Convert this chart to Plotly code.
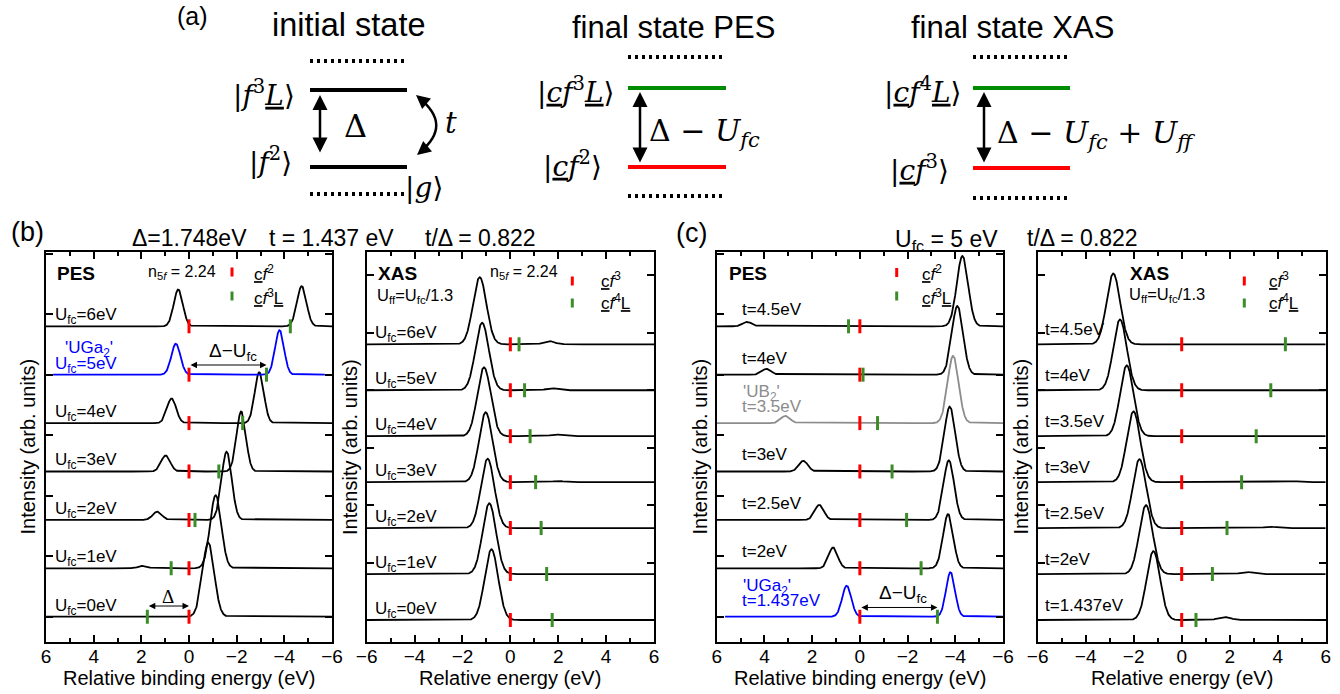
import numpy as np
import plotly.graph_objects as go

W, H = 1340, 694
SANS = "Liberation Sans, Arial, Helvetica, sans-serif"
SERIF = "DejaVu Serif, Liberation Serif, serif"
RED = "#ff0000"
GREEN = "#3c8c28"
GREEN_S = "#008c00"
BLUE = "#0000ff"
GRAY = "#8c8c8c"

# ---------------- model parameters ----------------
DELTA_B = 1.748
T_B = 1.437
T_OVER_DELTA = 0.822
U_FC_C = 5.0

# ---------------- panel (b) PES  (index 0 = bottom trace) ----------------
b_pes_labels = ["U<sub>fc</sub>=0eV", "U<sub>fc</sub>=1eV", "U<sub>fc</sub>=2eV", "U<sub>fc</sub>=3eV",
                "U<sub>fc</sub>=4eV", "U<sub>fc</sub>=5eV", "U<sub>fc</sub>=6eV"]
b_pes_tags = ["", "", "", "", "", "'UGa<sub>2</sub>'", ""]
b_pes_colors = ["black", "black", "black", "black", "black", BLUE, "black"]
b_pes_main_pos = [-0.81, -1.12, -1.58, -2.19, -2.95, -3.80, -4.73]
b_pes_main_amp = [1.53, 1.51, 1.41, 1.24, 1.05, 0.92, 0.83]
b_pes_main_fwhm = [0.58, 0.55, 0.50, 0.46, 0.45, 0.44, 0.47]
b_pes_sat_pos = [2.60, 1.92, 1.33, 0.98, 0.73, 0.55, 0.45]
b_pes_sat_amp = [0.00, 0.05, 0.17, 0.33, 0.51, 0.64, 0.76]
b_pes_sat_fwhm = [0.45, 0.45, 0.45, 0.45, 0.45, 0.45, 0.45]
b_pes_cf2 = [0, 0, 0, 0, 0, 0, 0]
b_pes_cf3L = [1.748, 0.748, -0.252, -1.252, -2.252, -3.252, -4.252]

# ---------------- panel (b) XAS ----------------
b_xas_labels = b_pes_labels
b_xas_tags = ["", "", "", "", "", "", ""]
b_xas_colors = ["black"] * 7
b_xas_main_pos = [-0.79, -0.88, -0.95, -1.03, -1.10, -1.18, -1.28]
b_xas_main_amp = [1.54, 1.54, 1.51, 1.52, 1.50, 1.47, 1.46]
b_xas_main_fwhm = [0.66, 0.66, 0.66, 0.66, 0.66, 0.66, 0.66]
b_xas_sat_pos = [2.30, 2.20, 2.10, 2.00, 1.92, 1.73, 1.62]
b_xas_sat_amp = [0.00, 0.01, 0.015, 0.025, 0.035, 0.045, 0.07]
b_xas_sat_fwhm = [0.55, 0.55, 0.55, 0.55, 0.55, 0.55, 0.55]
b_xas_cf3 = [0, 0, 0, 0, 0, 0, 0]
b_xas_cf4L = [1.748, 1.517, 1.286, 1.056, 0.825, 0.594, 0.363]

# ---------------- panel (c) PES ----------------
c_pes_labels = ["t=1.437eV", "t=2eV", "t=2.5eV", "t=3eV", "t=3.5eV", "t=4eV", "t=4.5eV"]
c_pes_tags = ["'UGa<sub>2</sub>'", "", "", "", "'UB<sub>2</sub>'", "", ""]
c_pes_colors = [BLUE, "black", "black", "black", GRAY, "black", "black"]
c_pes_main_pos = [-3.80, -3.70, -3.73, -3.77, -3.91, -4.09, -4.30]
c_pes_main_amp = [0.92, 1.12, 1.23, 1.34, 1.39, 1.42, 1.45]
c_pes_main_fwhm = [0.44, 0.50, 0.52, 0.53, 0.54, 0.55, 0.56]
c_pes_sat_pos = [0.55, 1.12, 1.70, 2.37, 3.11, 3.91, 4.72]
c_pes_sat_amp = [0.64, 0.43, 0.31, 0.22, 0.15, 0.12, 0.09]
c_pes_sat_fwhm = [0.45, 0.45, 0.45, 0.45, 0.45, 0.45, 0.45]
c_pes_cf2 = [0, 0, 0, 0, 0, 0, 0]
c_pes_cf3L = [-3.252, -2.567, -1.959, -1.350, -0.742, -0.134, 0.474]

# ---------------- panel (c) XAS ----------------
c_xas_labels = c_pes_labels
c_xas_tags = ["", "", "", "", "", "", ""]
c_xas_colors = ["black"] * 7
c_xas_main_pos = [-1.18, -1.49, -1.76, -2.01, -2.29, -2.57, -2.85]
c_xas_main_amp = [1.50, 1.50, 1.50, 1.54, 1.54, 1.54, 1.54]
c_xas_main_fwhm = [0.66, 0.66, 0.66, 0.66, 0.66, 0.66, 0.66]
c_xas_sat_pos = [1.78, 2.71, 3.68, 4.62, 5.60, 6.50, 7.50]
c_xas_sat_amp = [0.065, 0.045, 0.03, 0.02, 0.0, 0.0, 0.0]
c_xas_sat_fwhm = [0.60, 0.60, 0.60, 0.60, 0.60, 0.60, 0.60]
c_xas_cf3 = [0, 0, 0, 0, 0, 0, 0]
c_xas_cf4L = [0.594, 1.279, 1.888, 2.496, 3.104, 3.712, 4.320]

x_ticks = [-6, -4, -2, 0, 2, 4, 6]
y_ticks = [0, 1.25, 2.5, 3.75, 5, 6.25, 7.5]

fig = go.Figure()


def broadened(x, offset, peaks):
    y = np.full_like(x, float(offset))
    for pos, amp, fwhm in peaks:
        y += amp * np.exp(-4 * np.log(2) * (x - pos) ** 2 / fwhm ** 2)
    return y


panels = [
    dict(ax="x", ay="y", dom=(46, 332), rev=True, yr=(-0.517, 7.535), spacing=48.4,
         labels=b_pes_labels, tags=b_pes_tags, colors=b_pes_colors,
         mp=b_pes_main_pos, ma=b_pes_main_amp, mw=b_pes_main_fwhm,
         sp=b_pes_sat_pos, sa=b_pes_sat_amp, sw=b_pes_sat_fwhm,
         m1=b_pes_cf2, m2=b_pes_cf3L, lab_fx=7, lab_dy=10, tag_dy=15.5, tag_dx=10,
         blue_span=(-5.7, 5.7), xtitle="Relative binding energy (eV)", ytitle_x=27.5),
    dict(ax="x2", ay="y2", dom=(366.7, 654), rev=False, yr=(-0.472, 8.009), spacing=45.95,
         labels=b_xas_labels, tags=b_xas_tags, colors=b_xas_colors,
         mp=b_xas_main_pos, ma=b_xas_main_amp, mw=b_xas_main_fwhm,
         sp=b_xas_sat_pos, sa=b_xas_sat_amp, sw=b_xas_sat_fwhm,
         m1=b_xas_cf3, m2=b_xas_cf4L, lab_fx=6.6, lab_dy=10, tag_dy=15, tag_dx=0,
         blue_span=None, xtitle="Relative energy (eV)", ytitle_x=350),
    dict(ax="x3", ay="y3", dom=(716.7, 1003), rev=True, yr=(-0.517, 7.535), spacing=48.4,
         labels=c_pes_labels, tags=c_pes_tags, colors=c_pes_colors,
         mp=c_pes_main_pos, ma=c_pes_main_amp, mw=c_pes_main_fwhm,
         sp=c_pes_sat_pos, sa=c_pes_sat_amp, sw=c_pes_sat_fwhm,
         m1=c_pes_cf2, m2=c_pes_cf3L, lab_fx=23.5, lab_dy=16.5, tag_dy=13.5, tag_dx=1,
         blue_span=(-6.0, 5.65), xtitle="Relative binding energy (eV)", ytitle_x=699.5),
    dict(ax="x4", ay="y4", dom=(1037.7, 1325.7), rev=False, yr=(-0.472, 8.009), spacing=45.95,
         labels=c_xas_labels, tags=c_xas_tags, colors=c_xas_colors,
         mp=c_xas_main_pos, ma=c_xas_main_amp, mw=c_xas_main_fwhm,
         sp=c_xas_sat_pos, sa=c_xas_sat_amp, sw=c_xas_sat_fwhm,
         m1=c_xas_cf3, m2=c_xas_cf4L, lab_fx=5.6, lab_dy=15, tag_dy=15, tag_dx=0,
         blue_span=None, xtitle="Relative energy (eV)", ytitle_x=1020.5),
]

Y_TOP, Y_BOT = 252, 641.7
annotations = []
shapes = []

for k, p in enumerate(panels):
    n = len(p["labels"])
    for i in range(n):
        col = p["colors"][i]
        if col == BLUE and p["blue_span"] is not None:
            x = np.linspace(p["blue_span"][0], p["blue_span"][1], 1200)
        else:
            x = np.linspace(-6, 6, 1300)
        peaks = [(p["mp"][i], p["ma"][i], p["mw"][i]), (p["sp"][i], p["sa"][i], p["sw"][i])]
        fig.add_trace(go.Scatter(x=x, y=broadened(x, i, peaks), mode="lines",
                                 line=dict(color=col, width=1.8), xaxis=p["ax"], yaxis=p["ay"],
                                 hoverinfo="skip"))
    offs = list(range(n))
    fig.add_trace(go.Scatter(x=p["m1"], y=offs, mode="markers", xaxis=p["ax"], yaxis=p["ay"],
                             marker=dict(symbol="line-ns", size=10, line=dict(color=RED, width=3))))
    fig.add_trace(go.Scatter(x=p["m2"], y=offs, mode="markers", xaxis=p["ax"], yaxis=p["ay"],
                             marker=dict(symbol="line-ns", size=10, line=dict(color=GREEN, width=3))))

    width_px = p["dom"][1] - p["dom"][0]
    xdom = p["ax"] + " domain"
    for i in range(n):
        col = p["colors"][i]
        annotations.append(dict(text=p["labels"][i], xref=xdom, yref=p["ay"],
                                x=p["lab_fx"] / width_px, y=i + p["lab_dy"] / p["spacing"],
                                xanchor="left", yanchor="middle", showarrow=False,
                                font=dict(size=17, color=col)))
        if p["tags"][i]:
            annotations.append(dict(text=p["tags"][i], xref=xdom, yref=p["ay"],
                                    x=(p["lab_fx"] + p["tag_dx"]) / width_px,
                                    y=i + (p["lab_dy"] + p["tag_dy"]) / p["spacing"],
                                    xanchor="left", yanchor="middle", showarrow=False,
                                    font=dict(size=17, color=col)))
    annotations.append(dict(text=p["xtitle"], xref="paper", yref="paper",
                            x=(p["dom"][0] + p["dom"][1]) / 2 / W, y=1 - 678 / H,
                            xanchor="center", yanchor="middle", showarrow=False,
                            font=dict(size=20)))
    annotations.append(dict(text="Intensity (arb. units)", xref="paper", yref="paper",
                            x=p["ytitle_x"] / W, y=1 - 447 / H, textangle=-90,
                            xanchor="center", yanchor="middle", showarrow=False,
                            font=dict(size=20)))

    xa_name = "xaxis" if k == 0 else "xaxis%d" % (k + 1)
    ya_name = "yaxis" if k == 0 else "yaxis%d" % (k + 1)
    fig.update_layout(**{
        xa_name: dict(domain=[p["dom"][0] / W, p["dom"][1] / W], anchor=p["ay"],
                      range=[6, -6] if p["rev"] else [-6, 6], tickvals=x_ticks,
                      ticks="inside", ticklen=7, tickwidth=1.5, tickcolor="black",
                      minor=dict(dtick=1, tick0=0, ticks="inside", ticklen=4, tickwidth=1.5,
                                 tickcolor="black"),
                      showline=True, linewidth=2, linecolor="black", mirror="ticks",
                      showgrid=False, zeroline=False, tickfont=dict(size=19), automargin=False,
                      ticklabelstandoff=-4),
        ya_name: dict(domain=[1 - Y_BOT / H, 1 - Y_TOP / H], anchor=p["ax"], range=list(p["yr"]),
                      tickvals=y_ticks, showticklabels=False, ticks="inside", ticklen=7,
                      tickwidth=1.5, tickcolor="black", showline=True, linewidth=2,
                      linecolor="black", mirror="ticks", showgrid=False, zeroline=False,
                      automargin=False),
    })


def dpt(k, px, py):
    d = panels[k]["dom"]
    return (px - d[0]) / (d[1] - d[0]), (Y_BOT - py) / (Y_BOT - Y_TOP)


def dom_text(k, text, px, py, size=17, bold=False, anchor="left"):
    fx, fy = dpt(k, px, py)
    annotations.append(dict(text=("<b>%s</b>" % text) if bold else text,
                            xref=panels[k]["ax"] + " domain", yref=panels[k]["ay"] + " domain",
                            x=fx, y=fy, xanchor=anchor, yanchor="middle", showarrow=False,
                            font=dict(size=size)))


def dom_tick(k, px, py, color):
    fx, fy0 = dpt(k, px, py - 4.5)
    _, fy1 = dpt(k, px, py + 4.5)
    shapes.append(dict(type="line", xref=panels[k]["ax"] + " domain",
                       yref=panels[k]["ay"] + " domain", x0=fx, x1=fx, y0=fy0, y1=fy1,
                       line=dict(color=color, width=3)))


N5F = "n<sub>5<i>f</i></sub> = 2.24"
CF2 = "<u>c</u><i>f</i><sup>2</sup>"
CF3 = "<u>c</u><i>f</i><sup>3</sup>"
CF3L = "<u>c</u><i>f</i><sup>3</sup><u>L</u>"
CF4L = "<u>c</u><i>f</i><sup>4</sup><u>L</u>"
UFF = "U<sub>ff</sub>=U<sub>fc</sub>/1.3"

dom_text(0, "PES", 55, 274, size=19, bold=True)
dom_text(0, N5F, 146, 273, size=16)
dom_tick(0, 232, 272, RED)
dom_tick(0, 232, 296, GREEN)
dom_text(0, CF2, 252, 273)
dom_text(0, CF3L, 252, 297)

dom_text(1, "XAS", 376, 274, size=19, bold=True)
dom_text(1, UFF, 375, 296, size=16.5)
dom_text(1, N5F, 488, 273, size=16)
dom_tick(1, 572.3, 281, RED)
dom_tick(1, 572.3, 303, GREEN)
dom_text(1, CF3, 599, 280)
dom_text(1, CF4L, 599, 302)

dom_text(2, "PES", 726.7, 274, size=19, bold=True)
dom_tick(2, 896.7, 272.5, RED)
dom_tick(2, 896.7, 296, GREEN)
dom_text(2, CF2, 919.5, 273)
dom_text(2, CF3L, 919.5, 297)

dom_text(3, "XAS", 1128, 274, size=19, bold=True)
dom_text(3, UFF, 1127, 295, size=16.5)
dom_tick(3, 1244.3, 281, RED)
dom_tick(3, 1244.3, 303, GREEN)
dom_text(3, CF3, 1266.5, 280)
dom_text(3, CF4L, 1266.5, 302)


def data_arrow(k, xa, xb, y):
    p = panels[k]
    annotations.append(dict(text="", x=xb, y=y, ax=xa, ay=y, xref=p["ax"], yref=p["ay"],
                            axref=p["ax"], ayref=p["ay"], showarrow=True, arrowside="end+start",
                            arrowhead=2, startarrowhead=2, arrowsize=1.3, startarrowsize=1.3,
                            arrowwidth=1, arrowcolor="black", standoff=0, startstandoff=0))


data_arrow(0, DELTA_B, 0, 0.22)
annotations.append(dict(text="Δ", x=DELTA_B / 2, y=0.42, xref="x", yref="y", showarrow=False,
                        font=dict(size=19, family="Liberation Serif, serif")))
data_arrow(0, 0, DELTA_B - U_FC_C, 5.2)
annotations.append(dict(text="Δ−U<sub>fc</sub>", x=-1.85, y=5.47, xref="x", yref="y",
                        showarrow=False, font=dict(size=19)))
data_arrow(2, 0, DELTA_B - U_FC_C, 0.19)
annotations.append(dict(text="Δ−U<sub>fc</sub>", x=-1.82, y=0.47, xref="x3", yref="y3",
                        showarrow=False, font=dict(size=19)))


def ptext(text, px, py, size, anchor="left", family=None, color="black"):
    f = dict(size=size, color=color)
    if family:
        f["family"] = family
    annotations.append(dict(text=text, xref="paper", yref="paper", x=px / W, y=1 - py / H,
                            xanchor=anchor, yanchor="middle", showarrow=False, font=f))


ptext("(b)", 27, 232, 27, anchor="center")
ptext("Δ=%.3feV" % DELTA_B, 130, 238, 23)
ptext("t = %.3f eV" % T_B, 267, 238, 23)
ptext("t/Δ = %.3f" % T_OVER_DELTA, 423, 238, 23)
ptext("(c)", 691, 233, 27, anchor="center")
ptext("U<sub>fc</sub> = %d eV" % U_FC_C, 893, 240, 23)
ptext("t/Δ = %.3f" % T_OVER_DELTA, 1025, 238, 23)

# ---------------- schematic (a) ----------------
ptext("(a)", 192, 16, 25, anchor="center")
ptext("initial state", 349, 25, 32.5, anchor="center")
ptext("final state PES", 673, 27, 31, anchor="center")
ptext("final state XAS", 1012, 27, 31, anchor="center")


def hline(x0, x1, y, color, width=4, dash="solid"):
    shapes.append(dict(type="line", xref="paper", yref="paper", x0=x0 / W, x1=x1 / W,
                       y0=1 - y / H, y1=1 - y / H, line=dict(color=color, width=width, dash=dash)))


DOT = "3px,4px"
hline(310, 404, 61, "black", 4, DOT)
hline(310, 407, 90, "black", 4)
hline(310, 407, 167, "black", 4)
hline(310, 404, 194, "black", 4, DOT)

hline(628, 724, 57, "black", 4, DOT)
hline(628, 726, 88, GREEN_S, 4)
hline(628, 726, 167, RED, 4)
hline(628, 724, 196, "black", 4, DOT)

hline(973, 1068, 57, "black", 4, DOT)
hline(973, 1070, 88, GREEN_S, 4)
hline(973, 1070, 168, RED, 4)
hline(973, 1068, 198, "black", 4, DOT)


def varrow(x, y0, y1):
    annotations.append(dict(text="", xref="paper", yref="paper", x=x / W, y=1 - y0 / H,
                            ax=0, ay=y1 - y0, showarrow=True, arrowside="end+start",
                            arrowhead=2, startarrowhead=2, arrowsize=1.2, startarrowsize=1.2,
                            arrowwidth=2.5, arrowcolor="black", standoff=0, startstandoff=0))


varrow(320, 95, 154)
varrow(640, 92, 164)
varrow(984, 92, 164)

# curved arrow (t)
p0, c, p1 = (419, 98), (453, 125), (420, 152)
shapes.append(dict(type="path", xref="paper", yref="paper",
                   path="M %.5f,%.5f Q %.5f,%.5f %.5f,%.5f" % (p0[0] / W, 1 - p0[1] / H, c[0] / W,
                                                               1 - c[1] / H, p1[0] / W, 1 - p1[1] / H),
                   line=dict(color="black", width=2.5)))
for tip, off in [((416, 95), (6, 5)), ((417, 155), (6, -5))]:
    annotations.append(dict(text="", xref="paper", yref="paper", x=tip[0] / W, y=1 - tip[1] / H,
                            ax=off[0], ay=off[1], showarrow=True, arrowhead=2, arrowsize=1.1,
                            arrowwidth=2.5, arrowcolor="black", standoff=0))

KET = 28
ptext("|<i>f</i><sup>3</sup><u><i>L</i></u>⟩", 297, 93, KET, anchor="right", family=SERIF)
ptext("|<i>f</i><sup>2</sup>⟩", 294, 160, KET, anchor="right", family=SERIF)
ptext("|<i>g</i>⟩", 403, 188, KET, anchor="left", family=SERIF)
ptext("Δ", 355, 126, 32, anchor="center", family=SERIF)
ptext("<i>t</i>", 451, 123, 29, anchor="center", family=SERIF)

ptext("|<u><i>c</i></u><i>f</i><sup>3</sup><u><i>L</i></u>⟩", 617, 91, KET, anchor="right", family=SERIF)
ptext("|<u><i>c</i></u><i>f</i><sup>2</sup>⟩", 604, 164, KET, anchor="right", family=SERIF)
ptext("Δ − <i>U</i><sub><i>fc</i></sub>", 647, 132, 30, anchor="left", family=SERIF)

ptext("|<u><i>c</i></u><i>f</i><sup>4</sup><u><i>L</i></u>⟩", 964, 91, KET, anchor="right", family=SERIF)
ptext("|<u><i>c</i></u><i>f</i><sup>3</sup>⟩", 951, 168, KET, anchor="right", family=SERIF)
ptext("Δ − <i>U</i><sub><i>fc</i></sub> + <i>U</i><sub><i>ff</i></sub>", 995, 134, 30,
      anchor="left", family=SERIF)

fig.update_layout(width=W, height=H, autosize=False,
                  margin=dict(l=0, r=0, t=0, b=0, pad=0, autoexpand=False),
                  paper_bgcolor="white", plot_bgcolor="white", showlegend=False,
                  font=dict(family=SANS, color="black", size=16),
                  annotations=annotations, shapes=shapes)

fig.write_html("out.html")
